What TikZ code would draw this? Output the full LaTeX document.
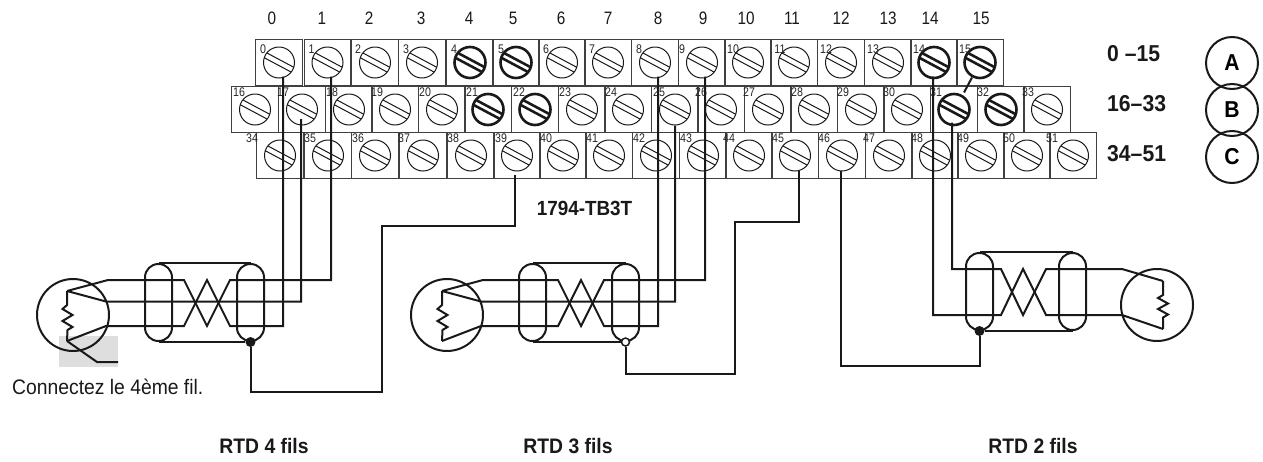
\documentclass[tikz,border=0pt]{standalone}
\usepackage{fontspec}
\usepackage{tikz}
\newfontfamily\narrowfont{Liberation Sans}[FakeStretch=0.85]
\newfontfamily\labelfont{Liberation Sans}[FakeStretch=0.92]

\tikzset{
    wire/.style={line width=2pt, draw=black!90, line join=miter},
    termbox/.style={draw=black!75, line width=1pt, minimum width=46.5pt, minimum height=46pt, inner sep=0pt, anchor=north west},
    screw/.style={circle, draw=black!90, line width=1pt, minimum size=31pt, inner sep=0pt},
    boldscrew/.style={screw, line width=2.6pt},
    termnum/.style={font=\narrowfont\fontsize{12.5}{13}\selectfont, text=black!85, inner sep=0pt},
    colnum/.style={font=\narrowfont\fontsize{18}{20}\selectfont, text=black!90, inner sep=0pt},
    rangelabel/.style={font=\labelfont\bfseries\fontsize{23}{25}\selectfont, text=black!90, inner sep=0pt, anchor=west},
    caption/.style={font=\labelfont\bfseries\fontsize{21}{23}\selectfont, text=black!90, inner sep=0pt},
    rtd/.style={circle, draw=black!90, line width=2pt, minimum size=72pt, inner sep=0pt},
    shield/.style={draw=black!90, line width=2pt, rounded corners=13.4pt, minimum width=27pt, minimum height=77pt, inner sep=0pt},
    rowbadge/.style={circle, draw=black!90, line width=2pt, minimum size=52pt, inner sep=0pt, font=\labelfont\bfseries\fontsize{23}{25}\selectfont},
}

% one row of terminals: top, label offset, list of left/number/label x/style
\newcommand{\termrow}[3]{
    \foreach \x/\n/\d/\s in {#3} {
        \node[termbox] (t\n) at (\x,#1) {};
        \node[\s] (s\n) at (\x+24,#1+23.5) {};
        \draw[\s] ([shift={(-12.2,-9.6)}]s\n.center) -- ([shift={(14.8,4.8)}]s\n.center);
        \draw[\s] ([shift={(-14.8,-4.8)}]s\n.center) -- ([shift={(12.2,9.6)}]s\n.center);
        \node[termnum] (n\n) at (\x+\d,#1+#2) {\n};
    }
}

\begin{document}
\begin{tikzpicture}[x=1pt, y=-1pt]
    \useasboundingbox (0,0) rectangle (1263,461);

    % Grey patch under the fourth wire
    \fill[black!13] (59,336) rectangle (118,367);

    % Column numbers
    \foreach \x/\n in {272/0, 322/1, 369/2, 421/3, 469/4, 513/5, 561/6, 608/7, 658/8, 703/9, 746/10, 792/11, 841/12, 888/13, 930/14, 981/15}
        \node[colnum] (c\n) at (\x,18) {\n};

    % Terminal rows
    \termrow{39}{10}{255/0/8/screw, 303.5/1/8/screw, 351/2/7/screw, 398/3/8/screw, 446/4/8/boldscrew, 492/5/9/boldscrew, 538/6/8/screw, 584/7/8/screw, 631/8/8/screw, 678/9/4/screw, 724/10/9/screw, 770/11/10/screw, 817/12/9/screw, 864/13/9/screw, 910/14/9/boldscrew, 956/15/9/boldscrew}
    \termrow{86}{6}{231/16/8/screw, 278/17/5/screw, 325/18/7/screw, 371/19/6/screw, 418/20/7/screw, 464/21/8/boldscrew, 511/22/8/boldscrew, 558/23/7/screw, 604/24/7/screw, 651/25/8/screw, 697/26/4/screw, 744/27/5/screw, 790/28/7/screw, 837/29/6/screw, 883/30/6/screw, 930/31/6/boldscrew, 977/32/6/boldscrew, 1023/33/5/screw}
    \termrow{132}{6}{256/34/-4/screw, 304/35/6/screw, 351/36/7/screw, 399/37/5/screw, 447/38/6/screw, 493/39/8/screw, 539/40/7/screw, 585/41/7/screw, 632/42/7/screw, 679/43/7/screw, 725/44/4/screw, 771/45/7/screw, 818/46/6/screw, 865/47/4/screw, 911/48/6/screw, 957/49/6/screw, 1003/50/6/screw, 1049/51/3/screw}

    % Row ranges and badges
    \node[rangelabel] (rangeA) at (1107,54) {0 –15};
    \node[rangelabel] (rangeB) at (1107,104) {16–33};
    \node[rangelabel] (rangeC) at (1107,154) {34–51};
    \node[rowbadge] (badgeA) at (1232,63) {A};
    \node[rowbadge] (badgeB) at (1232,110) {B};
    \node[rowbadge] (badgeC) at (1232,157) {C};

    \node[caption, font=\labelfont\bfseries\fontsize{20.5}{22}\selectfont] (model) at (584.5,208) {1794-TB3T};

    % RTD 4 fils
    \node[rtd] (rtdA) at (73,315) {};
    \node[shield] (shA1) at (158.5,302.5) {};
    \node[shield] (shA2) at (250.5,302.5) {};
    \coordinate (a1) at (67,291);
    \coordinate (a2) at (67,341);
    \coordinate (a3) at (97,362);
    \coordinate (a4) at (118,362);
    \node[circle, fill=black!90, minimum size=10pt, inner sep=0pt] (jA) at (shA2.south) {};
    \draw[wire] (shA1.north) -- (shA2.north);
    \draw[wire] (shA1.south) -- (jA);
    \draw[wire] (a1) -- ++(0,14) -- ++(-4.5,4) -- ++(10,6) -- ++(-10,6) -- ++(10,6) -- ++(-5,3) -- (a2);
    \draw[wire] (a2) -- (a3) -- (a4);
    % Wires to the terminals
    \draw[wire] (a1) -- (108,280) -- (184,280) -- (207,326) -- (230,280) -| ([shift={(3.5,14)}]s1.center);
    \draw[wire] (a1) -- (106,301.5) -| ([shift={(-1,9.5)}]s17.center);
    \draw[wire] (a2) -- (106,326) -- (184,326) -- (207,280) -- (230,326) -| ([shift={(4,14)}]s0.center);
    \draw[wire] (jA) |- (382,392) |- (515,226) -- ([shift={(-2,19)}]s39.center);

    % RTD 3 fils
    \node[rtd] (rtdB) at (447,315) {};
    \node[shield] (shB1) at (532.5,302.5) {};
    \node[shield] (shB2) at (625.5,302.5) {};
    \coordinate (b1) at (442,291);
    \coordinate (b2) at (442,341);
    \node[circle, draw=black!90, fill=white, line width=1.5pt, minimum size=8pt, inner sep=0pt] (jB) at (shB2.south) {};
    \draw[wire] (shB1.north) -- (shB2.north);
    \draw[wire] (shB1.south) -- (jB);
    \draw[wire] (b1) -- ++(0,14) -- ++(-4.5,4) -- ++(10,6) -- ++(-10,6) -- ++(10,6) -- ++(-5,3) -- (b2);
    % Wires to the terminals
    \draw[wire] (b1) -- (483,280) -- (558,280) -- (581,326) -- (604,280) -| ([shift={(3,14)}]s9.center);
    \draw[wire] (b1) -- (481,301.5) -| ([shift={(0,16)}]s25.center);
    \draw[wire] (b2) -- (481,326) -- (558,326) -- (581,280) -- (604,326) -| ([shift={(3,14)}]s8.center);
    \draw[wire] (jB) |- (735,374) |- (799,222) -- ([shift={(4,15)}]s45.center);

    % RTD 2 fils
    \node[rtd] (rtdC) at (1157,305) {};
    \node[shield] (shC1) at (979.5,291.5) {};
    \node[shield] (shC2) at (1072.5,291.5) {};
    \coordinate (c1) at (1163,281);
    \coordinate (c2) at (1163,329);
    \node[circle, fill=black!90, minimum size=10pt, inner sep=0pt] (jC) at (shC1.south) {};
    \draw[wire] (shC1.north) -- (shC2.north);
    \draw[wire] (jC) -- (shC2.south);
    \draw[wire] (c1) -- ++(0,14) -- ++(-5,3) -- ++(10,5.5) -- ++(-10,5.5) -- ++(10,5.5) -- ++(-5,3) -- (c2);
    % Wires to the terminals
    \draw[wire] (c1) -- (1122,269) -- (1046,269) -- (1023,315) -- (1001,269) -| ([shift={(-2,13)}]s31.center);
    \draw[wire] (c2) -- (1122,315) -- (1046,315) -- (1023,269) -- (1001,315) -| ([shift={(-1,14)}]s14.center);
    \draw[wire] (jC) |- (841,366) -- ([shift={(-1,15)}]s46.center);

    % Link between terminals 15 and 31
    \draw[wire] ([shift={(-8,15)}]s15.center) -- ([shift={(10,-17)}]s31.center);

    % Texts
    \node[font=\labelfont\fontsize{21}{23}\selectfont, text=black!90, inner sep=0pt, anchor=west] (note) at (12,387) {Connectez le 4ème fil.};
    \node[caption] (capA) at (264,446) {RTD 4 fils};
    \node[caption] (capB) at (568,446) {RTD 3 fils};
    \node[caption] (capC) at (1033,446) {RTD 2 fils};
\end{tikzpicture}
\end{document}
